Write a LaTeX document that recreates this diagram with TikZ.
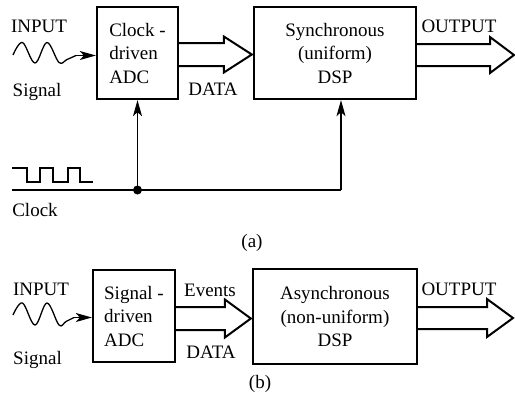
\documentclass[tikz,border=0pt]{standalone}
\usepackage{fontspec}
\setmainfont{Liberation Serif}
\usetikzlibrary{arrows.meta,calc}
% start, end, head length, shaft half width, head half width
\newcommand\hollowarr[5]{%
  \draw[bigarr] ($(#1)+(0,-#4)$) -- ($(#2)+(-#3,-#4)$) -- ($(#2)+(-#3,-#5)$) -- (#2)
    -- ($(#2)+(-#3,#5)$) -- ($(#2)+(-#3,#4)$) -- ($(#1)+(0,#4)$);}
\begin{document}
\begin{tikzpicture}[x=1pt,y=-1pt,
  box/.style={draw, line width=2.3pt, inner sep=0pt},
  txt/.style={font=\fontsize{19}{23.5}\selectfont, inner sep=0pt},
  thinln/.style={line width=1.3pt},
  arr/.style={thinln, -{Stealth[length=16pt,width=9pt,inset=4pt]}},
  bigarr/.style={line width=2pt, line join=miter}]
\useasboundingbox (0,0) rectangle (515,408);

% ---------- (a) ----------
\node[box, txt, align=left, minimum width=81pt, minimum height=92pt] (adcA) at (137.5,53) {Clock -\\driven\\ADC};
\node[box, txt, align=center, minimum width=162pt, minimum height=92pt] (dspA) at (335,53) {Synchronous\\(uniform)\\DSP};

\coordinate (dAs) at ($(adcA.east)+(0,1.5)$);
\coordinate (dAe) at ($(dspA.west)+(-1,1.5)$);
\hollowarr{dAs}{dAe}{28}{11.5}{18}
\coordinate (oAs) at ($(dspA.east)+(0,2)$);
\coordinate (oAe) at (514,55);
\hollowarr{oAs}{oAe}{24}{11}{18}

\node[txt, anchor=base] (inA) at (39,32) {INPUT};
\node[txt, anchor=base] (sigA) at (37,96) {Signal};
\node[txt, anchor=base] (dataA) at (213,95) {DATA};
\node[txt, anchor=base] (outA) at (459,32) {OUTPUT};
\node[txt, anchor=base] (clkL) at (35,216) {Clock};
\node[txt, anchor=base] (capA) at (252,247) {(a)};

\draw[thinln] plot[smooth, tension=0.6] coordinates {(13,55) (22.5,42.5) (35,63) (47,42.5) (59,62.5) (67,59.5) (76,55.5)};
\coordinate (sA) at (76,55.5);
\draw[arr] (sA) -- (sA -| adcA.west);

% clock
\draw[thinln] (12,168) -- (27,168) -- (27,182) -- (40,182) -- (40,168) -- (53,168) -- (53,182)
  -- (68,182) -- (68,168) -- (80,168) -- (80,182) -- (93,182);
\coordinate (clkS) at (12,190);
\coordinate (clkD) at (137.5,190);
\coordinate (clkT) at (341,190);
\draw[thinln] (clkS) -- (clkT);
\draw[arr] (clkD) -- (adcA.south);
\draw[arr] (clkT) -- (clkT |- dspA.south);
\fill (clkD) circle (4.5pt);

% ---------- (b) ----------
\node[box, txt, align=left, minimum width=82pt, minimum height=92pt] (adcB) at (134,316) {Signal -\\driven\\ADC};
\node[box, txt, align=center, minimum width=164pt, minimum height=95pt] (dspB) at (335,316.5) {Asynchronous\\(non-uniform)\\DSP};

\coordinate (dBs) at ($(adcB.east)+(0,2.5)$);
\coordinate (dBe) at ($(dspB.west)+(-1,2)$);
\hollowarr{dBs}{dBe}{26}{11.5}{19}
\coordinate (oBs) at ($(dspB.east)+(0,1.5)$);
\coordinate (oBe) at (513,318);
\hollowarr{oBs}{oBe}{26}{11}{19}

\node[txt, anchor=base] (inB) at (41,295) {INPUT};
\node[txt, anchor=base] (sigB) at (37.5,364) {Signal};
\node[txt, anchor=base] (evB) at (210,296) {Events};
\node[txt, anchor=base] (dataB) at (211,358) {DATA};
\node[txt, anchor=base] (outB) at (459,295) {OUTPUT};
\node[txt, anchor=base] (capB) at (260,388) {(b)};

\draw[thinln] plot[smooth, tension=0.6] coordinates {(13,315) (22.5,303) (35,325) (47,303) (59,325) (66,321.5) (74,317.5)};
\coordinate (sB) at (74,317.5);
\draw[arr] (sB) -- (sB -| adcB.west);
\end{tikzpicture}
\end{document}
